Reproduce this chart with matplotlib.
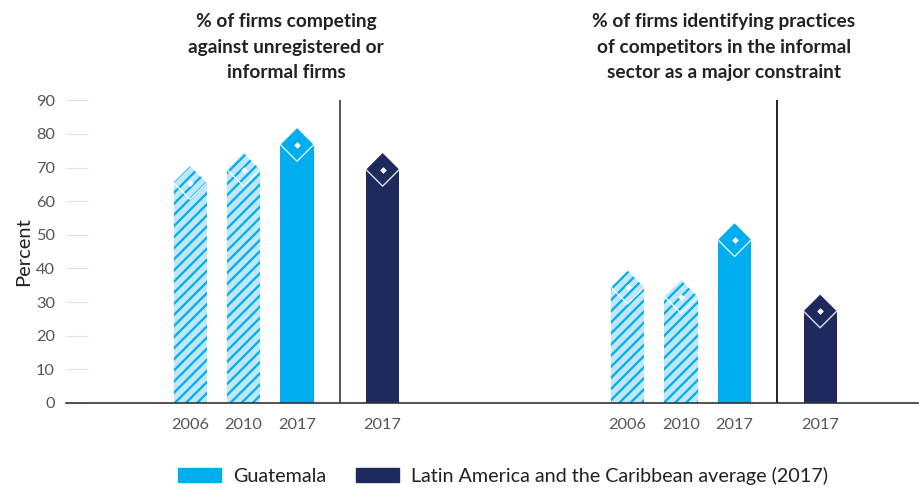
import matplotlib
matplotlib.use('Agg')
import matplotlib.pyplot as plt
import matplotlib.patches as mpatches
import matplotlib.transforms as mtransforms
import numpy as np

plt.rcParams['font.family'] = ['Lato', 'DejaVu Sans']
plt.rcParams['hatch.linewidth'] = 1.6

GUA = '#00aeef'
GUA_LIGHT = '#bfe7f9'
LAC = '#1f2a5c'

years = ['2006', '2010', '2017', '2017']
titles = ['% of firms competing\nagainst unregistered or\ninformal firms',
          '% of firms identifying practices\nof competitors in the informal\nsector as a major constraint']
competing = [65.5, 69.4, 76.8, 69.4]
constraint = [34.4, 31.6, 48.5, 27.3]
legend_labels = ['Guatemala', 'Latin America and the Caribbean average (2017)']

group_starts = [2.32, 10.5]
offsets = np.array([0, 1, 2, 3.6])
sep_offset = 2.8
bar_w = 0.62

fig = plt.figure(figsize=(9.2, 4.88), dpi=100)
ax = fig.add_axes([66 / 920, 1 - 403 / 488, 852 / 920, 302.7 / 488])
ax.set_xlim(0, 15.93)
ax.set_ylim(0, 90)

# diamond half-height in data units so it looks square on screen
px_per_unit_y = 302.7 / 90
px_per_unit_x = 852 / 15.93
half_w = bar_w / 2
half_h = half_w * px_per_unit_x / px_per_unit_y

styles = [('hatch', GUA), ('hatch', GUA), ('solid', GUA), ('solid', LAC)]

for g, (start, vals) in enumerate(zip(group_starts, [competing, constraint])):
    xs = start + offsets
    for x, v, (kind, col) in zip(xs, vals, styles):
        if kind == 'hatch':
            fc, ec, hatch = GUA_LIGHT, GUA, '///'
        else:
            fc, ec, hatch = col, col, None
        ax.bar(x, v, width=bar_w, color=fc, edgecolor=ec if hatch else 'none',
               hatch=hatch, linewidth=0, zorder=2)
        diamond = mpatches.Polygon([(x - half_w, v), (x, v + half_h), (x + half_w, v), (x, v - half_h)],
                                   closed=True, facecolor=fc, edgecolor=ec if hatch else 'none',
                                   hatch=hatch, linewidth=0, zorder=3, clip_on=False)
        ax.add_patch(diamond)
        ax.plot([x - half_w, x, x + half_w], [v, v - half_h, v], color='white', lw=1.0,
                alpha=0.85, zorder=4, clip_on=False)
        ax.plot(x, v, 'D', ms=3.4, color='white', mec='none', zorder=5, clip_on=False)
    ax.axvline(start + sep_offset, color='#555555' if g == 0 else '#222222', lw=1.4, zorder=1)
    trans = mtransforms.blended_transform_factory(ax.transData, fig.transFigure)
    ax.text(start + 1.8, 1 - 13 / 488, titles[g], transform=trans, ha='center', va='top',
            fontsize=13.8, fontweight='bold', color='#222222', linespacing=1.62)

ax.set_xticks(np.concatenate([s + offsets for s in group_starts]))
ax.set_xticklabels(years * 2)
ax.set_yticks(np.arange(0, 91, 10))
ax.tick_params(axis='x', length=0, pad=10.5, labelsize=11.8, labelcolor='#555555')
ax.tick_params(axis='y', direction='in', length=16, width=0.8, color='#e2e2e2', pad=8,
               labelsize=11.8, labelcolor='#555555')
for side in ['top', 'right', 'left']:
    ax.spines[side].set_visible(False)
ax.spines['bottom'].set_color('#333333')
ax.spines['bottom'].set_linewidth(1.2)
ax.spines['bottom'].set_zorder(6)
ax.set_ylabel('Percent', fontsize=14.5, color='#222222', labelpad=3)

handles = [mpatches.Patch(color=GUA), mpatches.Patch(color=LAC)]
fig.legend(handles, legend_labels, loc='center', bbox_to_anchor=(503 / 920, 1 - 476 / 488),
           ncol=2, frameon=False, fontsize=14.2, handlelength=2.2, handleheight=0.75,
           handletextpad=0.6, columnspacing=1.5, labelcolor='#222222')

fig.savefig('out.png', dpi=100)
